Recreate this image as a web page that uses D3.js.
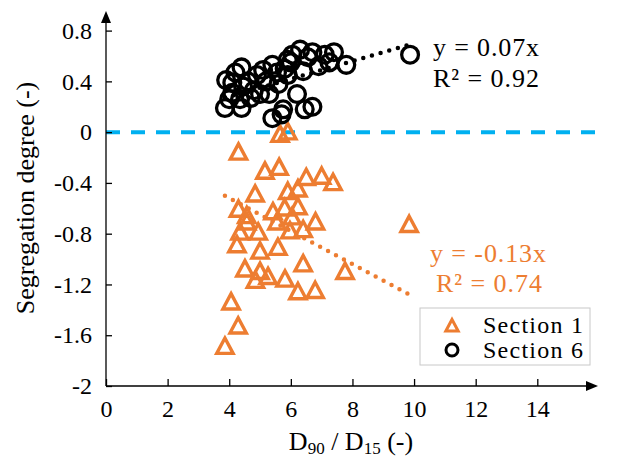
<!DOCTYPE html>
<html>
<head>
<meta charset="utf-8">
<script src="https://cdn.jsdelivr.net/npm/d3@7"></script>
<style>
  html, body { margin: 0; padding: 0; background: #fff; }
  svg { display: block; font-family: "Liberation Serif", "Times New Roman", serif; }
</style>
</head>
<body>
<svg id="chart" width="627" height="458"></svg>
<script>
// Section 1 samples: [D90/D15, segregation degree]
const section1 = [
  [5.65,-0.02],[5.9,0.0],[4.3,-0.16],[5.16,-0.31],[5.62,-0.28],[6.5,-0.36],[7.0,-0.35],[7.37,-0.4],
  [4.84,-0.49],[5.9,-0.47],[6.23,-0.45],[4.3,-0.61],[4.57,-0.66],[5.42,-0.63],[5.8,-0.6],[6.23,-0.59],
  [6.04,-0.67],[4.57,-0.71],[4.35,-0.79],[4.94,-0.79],[5.55,-0.71],[5.97,-0.78],[6.4,-0.77],[6.8,-0.71],
  [4.25,-0.89],[5.0,-0.94],[5.58,-0.91],[4.51,-1.08],[5.0,-1.1],[5.26,-1.14],[4.85,-1.17],[5.81,-1.16],
  [6.4,-1.04],[6.23,-1.26],[6.79,-1.25],[7.76,-1.1],[4.06,-1.34],[4.29,-1.53],[3.86,-1.69],[9.84,-0.73]
];
// Section 6 samples
const section6 = [
  [3.86,0.19],[4.4,0.19],[5.4,0.11],[5.7,0.14],[4.2,0.47],[4.4,0.51],[4.1,0.39],[4.45,0.36],
  [4.8,0.33],[5.1,0.49],[5.4,0.53],[5.55,0.47],[5.0,0.3],[4.7,0.27],[4.35,0.26],[4.1,0.31],
  [5.9,0.57],[6.3,0.65],[6.7,0.63],[7.1,0.61],[7.4,0.63],[7.8,0.53],[6.2,0.3],[6.45,0.18],
  [6.7,0.2],[5.75,0.18],[6.0,0.55],[5.9,0.45],[6.55,0.59],[6.05,0.61],[3.9,0.41],[4.6,0.4],
  [4.9,0.45],[5.2,0.4],[5.6,0.38],[5.3,0.3],[4.0,0.26],[5.8,0.5],[6.9,0.52],[7.25,0.55],
  [6.4,0.48],[9.87,0.61]
];
// Linear fits through the origin
const fit1 = { slope: -0.13, label: "y = -0.13x", r2: "R² = 0.74" };
const fit6 = { slope: 0.07, label: "y = 0.07x", r2: "R² = 0.92" };
const xTicks = [0, 2, 4, 6, 8, 10, 12, 14];
const yTicks = [-2, -1.6, -1.2, -0.8, -0.4, 0, 0.4, 0.8];
const zeroLineX = [0, 16];
const legendNames = ["Section 1", "Section 6"];

const ORANGE = "#ED7D31", BLUE = "#00B0F0";
const svg = d3.select("#chart");
const x = d3.scaleLinear().domain([0, 14]).range([106, 537.3]);
const y = d3.scaleLinear().domain([-2, 0.8]).range([386, 30.6]);

// zero reference line
svg.append("line")
  .attr("x1", x(zeroLineX[0])).attr("x2", x(zeroLineX[1]))
  .attr("y1", y(0)).attr("y2", y(0))
  .attr("stroke", BLUE).attr("stroke-width", 4)
  .attr("stroke-dasharray", "14 11");

// trendlines (dotted)
function trend(data, fit, color) {
  const ext = d3.extent(data, d => d[0]);
  svg.append("line")
    .attr("x1", x(ext[0])).attr("y1", y(fit.slope * ext[0]))
    .attr("x2", x(ext[1])).attr("y2", y(fit.slope * ext[1]))
    .attr("stroke", color).attr("stroke-width", 4.5)
    .attr("stroke-linecap", "round")
    .attr("stroke-dasharray", "0 9");
}
trend(section1, fit1, ORANGE);
trend(section6, fit6, "#000");

// markers
const tri = s => `M0,${-s}L${s*0.95},${s*0.78}L${-s*0.95},${s*0.78}Z`;
svg.append("g").selectAll("path").data(section1).join("path")
  .attr("d", tri(8.6))
  .attr("transform", d => `translate(${x(d[0])},${y(d[1])})`)
  .attr("fill", "none").attr("stroke", ORANGE).attr("stroke-width", 3.4);

svg.append("g").selectAll("circle").data(section6).join("circle")
  .attr("cx", d => x(d[0])).attr("cy", d => y(d[1])).attr("r", 8.4)
  .attr("fill", "none").attr("stroke", "#000").attr("stroke-width", 3.3);

// axes
const xAxis = svg.append("g").attr("transform", `translate(0,${y(-2)})`)
  .call(d3.axisBottom(x).tickValues(xTicks).tickSize(-7).tickPadding(14).tickFormat(d3.format("d")));
xAxis.select(".domain").remove();
xAxis.append("line").attr("x1", x(0)).attr("x2", 590).attr("stroke", "#000").attr("stroke-width", 1.3);
xAxis.append("path").attr("d", "M598,0L586,-5L586,5Z").attr("fill", "#000");

const yAxis = svg.append("g").attr("transform", `translate(${x(0)},0)`)
  .call(d3.axisLeft(y).tickValues(yTicks).tickSize(-6).tickPadding(14).tickFormat(d => String(d)));
yAxis.select(".domain").remove();
yAxis.append("line").attr("y1", y(-2)).attr("y2", 20).attr("stroke", "#000").attr("stroke-width", 1.3);
yAxis.append("path").attr("d", "M0,11L-5,23L5,23Z").attr("fill", "#000");

svg.selectAll(".tick line").attr("stroke", "#000").attr("stroke-width", 1.3);
svg.selectAll(".tick text").attr("font-size", 24).attr("fill", "#000")
  .attr("font-family", "Liberation Serif, Times New Roman, serif");

// axis titles
svg.append("text").attr("transform", "translate(34,198) rotate(-90)")
  .attr("text-anchor", "middle").attr("font-size", 26).text("Segregation degree (-)");
const xt = svg.append("text").attr("x", 351).attr("y", 450)
  .attr("text-anchor", "middle").attr("font-size", 26);
xt.append("tspan").text("D");
xt.append("tspan").attr("font-size", 17).attr("dy", 4).text("90");
xt.append("tspan").attr("dy", -4).text(" / D");
xt.append("tspan").attr("font-size", 17).attr("dy", 4).text("15");
xt.append("tspan").attr("dy", -4).text(" (-)");

// fit annotations
svg.append("text").attr("x", 433).attr("y", 56).attr("font-size", 26).attr("textLength", 106).text(fit6.label);
svg.append("text").attr("x", 433).attr("y", 87).attr("font-size", 26).attr("textLength", 106).text(fit6.r2);
svg.append("text").attr("x", 430).attr("y", 262).attr("font-size", 26).attr("fill", ORANGE).attr("textLength", 116).text(fit1.label);
svg.append("text").attr("x", 436).attr("y", 292).attr("font-size", 26).attr("fill", ORANGE).attr("textLength", 106).text(fit1.r2);

// legend
const lg = svg.append("g");
lg.append("rect").attr("x", 420).attr("y", 308).attr("width", 170).attr("height", 57)
  .attr("fill", "#fff").attr("stroke", "#c8c8c8").attr("stroke-width", 1);
lg.append("path").attr("d", tri(6.5)).attr("transform", "translate(452,326)")
  .attr("fill", "none").attr("stroke", ORANGE).attr("stroke-width", 3);
lg.append("circle").attr("cx", 452).attr("cy", 350).attr("r", 6)
  .attr("fill", "none").attr("stroke", "#000").attr("stroke-width", 3);
lg.append("text").attr("x", 483).attr("y", 333).attr("font-size", 24).attr("textLength", 100).text(legendNames[0]);
lg.append("text").attr("x", 483).attr("y", 358).attr("font-size", 24).attr("textLength", 100).text(legendNames[1]);
</script>
</body>
</html>
